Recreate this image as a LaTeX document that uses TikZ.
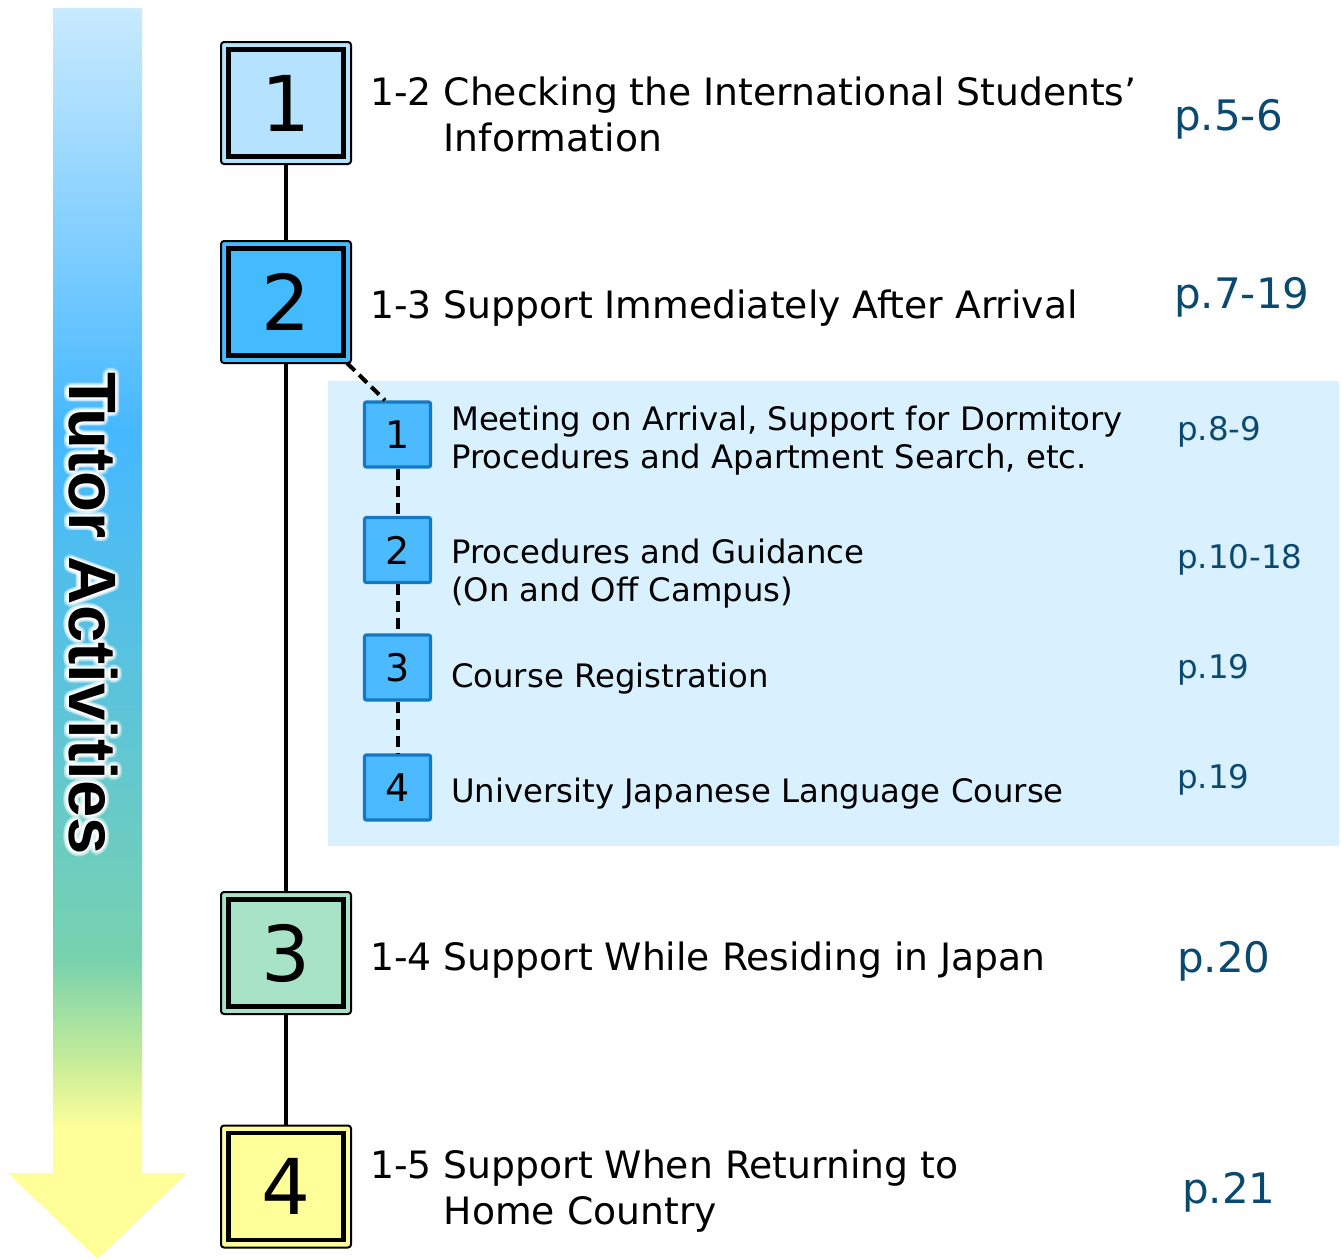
\documentclass[tikz,border=0pt]{standalone}
\usepackage{fontspec}
\usetikzlibrary{calc}
\setmainfont{DejaVu Sans}
\newfontfamily\tutorfont{Liberation Sans}
\definecolor{pageblue}{HTML}{0B4A70}
\definecolor{panelblue}{HTML}{D9F0FF}
\definecolor{smallfill}{HTML}{4BBAFF}
\definecolor{smallborder}{HTML}{1479C4}
\definecolor{boxa}{HTML}{B5E3FF}
\definecolor{boxb}{HTML}{44BAFF}
\definecolor{boxc}{HTML}{A8E3C8}
\definecolor{boxd}{HTML}{FFFF99}
\definecolor{gra}{HTML}{C9EAFF}
\definecolor{grb}{HTML}{45B8FF}
\definecolor{grc}{HTML}{5CC4DA}
\definecolor{grd}{HTML}{78D2AE}
\definecolor{gre}{HTML}{C5EC98}
\definecolor{grf}{HTML}{FFFF99}
\pgfdeclareverticalshading{tutorshade}{100bp}{color(0bp)=(grf); color(25bp)=(grf); color(30.16bp)=(grf); color(32.95bp)=(gre); color(36.95bp)=(grd); color(47.34bp)=(grc); color(58.13bp)=(grb); color(75bp)=(gra); color(100bp)=(gra)}
\begin{document}
\begin{tikzpicture}[x=1pt,y=-1pt,
  bigbox/.style={minimum width=130pt, minimum height=122pt, inner sep=0pt, draw=black, line width=2pt, rounded corners=3pt,
    font=\fontsize{77}{77}\selectfont,
    path picture={\draw[line width=4.5pt, sharp corners] ([shift={(7.5,7.5)}]path picture bounding box.north west) rectangle ([shift={(-7.5,-7.5)}]path picture bounding box.south east);}},
  smallbox/.style={minimum width=66pt, minimum height=65pt, inner sep=0pt, draw=smallborder, fill=smallfill, line width=3.2pt, rounded corners=2pt,
    font=\fontsize{38}{38}\selectfont},
  conn/.style={line width=4pt},
  dconn/.style={line width=4pt, dash pattern=on 11pt off 6pt},
  maintext/.style={anchor=base west, inner sep=0pt, font=\fontsize{37.7}{46}\selectfont},
  subtext/.style={anchor=base west, inner sep=0pt, font=\fontsize{32.3}{38}\selectfont},
  pagebig/.style={anchor=base west, inner sep=0pt, text=pageblue, font=\fontsize{42}{42}\selectfont},
  pagesmall/.style={anchor=base west, inner sep=0pt, text=pageblue, font=\fontsize{32.5}{32.5}\selectfont},
  tutor/.style={anchor=base west, inner sep=0pt, rotate=-90, font=\tutorfont\bfseries\fontsize{67}{67}\selectfont}
]
\useasboundingbox (0,0) rectangle (1342,1259);

% gradient arrow
\shade[shading=tutorshade] (53,8) -- (142,8) -- (142,1173) -- (187,1173) -- (97.5,1259) -- (8,1173) -- (53,1173) -- cycle;

% arrow label with glow
\coordinate (tpos) at (69,372);
\foreach \a in {0,20,...,340}{\node[tutor, text=white, opacity=0.22] at ([shift={(\a:4.5)}]tpos) {Tutor Activities};}
\foreach \a in {0,30,...,330}{\node[tutor, text=white, opacity=0.45] at ([shift={(\a:2.2)}]tpos) {Tutor Activities};}
\node[tutor] (tutor) at (tpos) {Tutor Activities};

% sub panel
\fill[panelblue] (328,381) rectangle (1339,846);

% big boxes
\node[bigbox, fill=boxa] (b1) at (286,103) {1};
\node[bigbox, fill=boxb] (b2) at (286,302) {2};
\node[bigbox, fill=boxc] (b3) at (286,953) {3};
\node[bigbox, fill=boxd] (b4) at (286,1186.5) {4};

% small boxes
\node[smallbox] (s1) at (397.5,434.5) {1};
\node[smallbox] (s2) at (397.5,550) {2};
\node[smallbox] (s3) at (397.5,667.5) {3};
\node[smallbox] (s4) at (397.5,787.5) {4};

% connectors
\draw[conn] (b1) -- (b2);
\draw[conn] (b2) -- (b3);
\draw[conn] (b3) -- (b4);
\draw[dconn] ([shift={(-5,-1)}]b2.south east) -- ($(s1.north west)!0.32!(s1.north east)$);
\draw[dconn] (s1) -- (s2);
\draw[dconn] (s2) -- (s3);
\draw[dconn] (s3) -- (s4);

% main texts
\node[maintext] (t1) at (370,105) {\begin{tabular}[t]{@{}l@{ }l@{}}1-2 & Checking the International Students’\\ & Information\end{tabular}};
\node[maintext] (t2) at (370,318) {1-3 Support Immediately After Arrival};
\node[maintext] (t3) at (370,970) {1-4 Support While Residing in Japan};
\node[maintext] (t4) at (370,1178) {\begin{tabular}[t]{@{}l@{ }l@{}}1-5 & Support When Returning to\\ & Home Country\end{tabular}};

% main page refs
\node[pagebig] (p1) at (1174,130) {p.5-6};
\node[pagebig] (p2) at (1174,308) {p.7-19};
\node[pagebig] (p3) at (1177,972) {p.20};
\node[pagebig] (p4) at (1182,1203) {p.21};

% sub texts
\node[subtext] (u1) at (451,430) {\begin{tabular}[t]{@{}l@{}}Meeting on Arrival, Support for Dormitory\\ Procedures and Apartment Search, etc.\end{tabular}};
\node[subtext] (u2) at (451,563) {\begin{tabular}[t]{@{}l@{}}Procedures and Guidance\\ (On and Off Campus)\end{tabular}};
\node[subtext] (u3) at (451,687) {Course Registration};
\node[subtext] (u4) at (451,802) {University Japanese Language Course};

% sub page refs
\node[pagesmall] (q1) at (1177,440) {p.8-9};
\node[pagesmall] (q2) at (1177,568) {p.10-18};
\node[pagesmall] (q3) at (1177,678) {p.19};
\node[pagesmall] (q4) at (1177,788) {p.19};
\end{tikzpicture}
\end{document}
